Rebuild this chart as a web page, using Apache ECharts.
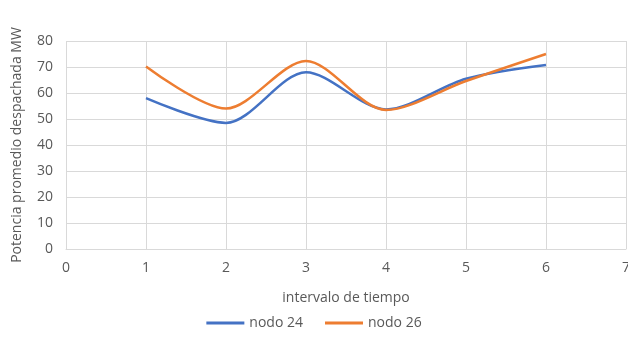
<!DOCTYPE html>
<html><head><meta charset="utf-8">
<script src="https://cdn.jsdelivr.net/npm/echarts@6/dist/echarts.min.js"></script>
<style>html,body{margin:0;padding:0;background:#fff}#c{width:628px;height:354px}</style>
</head><body><div id="c"></div>
<script>
const intervals = [1, 2, 3, 4, 5, 6];
const nodo24 = [58, 48.5, 68, 53.7, 65.5, 70.8];
const nodo26 = [70.2, 54, 72.3, 53.5, 64.6, 75];
const seriesNames = ['nodo 24', 'nodo 26'];
const colors = ['#4472C4', '#ED7D31'];
const font = 'Open Sans';
const chart = echarts.init(document.getElementById('c'));
chart.setOption({
  animation: false,
  color: colors,
  grid: {left: 66, right: 2, top: 41, bottom: 105, outerBoundsMode: 'none', containLabel: false},
  legend: {
    data: seriesNames, left: 'center', top: 311,
    itemWidth: 38, itemHeight: 3, itemGap: 22,
    icon: 'rect',
    textStyle: {color: '#595959', fontSize: 14, fontFamily: font}
  },
  xAxis: {
    type: 'value', min: 0, max: 7, interval: 1,
    name: 'intervalo de tiempo', nameLocation: 'middle', nameGap: 42,
    nameTextStyle: {color: '#595959', fontSize: 14, fontFamily: font},
    axisLine: {lineStyle: {color: '#D9D9D9'}},
    axisTick: {show: false},
    axisLabel: {color: '#595959', fontSize: 14, fontFamily: font, margin: 12},
    splitLine: {show: true, lineStyle: {color: '#D9D9D9'}}
  },
  yAxis: {
    type: 'value', min: 0, max: 80, interval: 10,
    name: 'Potencia promedio despachada MW', nameLocation: 'middle', nameGap: 42,
    nameTextStyle: {color: '#595959', fontSize: 14, fontFamily: font},
    axisLine: {show: false}, axisTick: {show: false},
    axisLabel: {color: '#595959', fontSize: 14, fontFamily: font, margin: 13},
    splitLine: {lineStyle: {color: '#D9D9D9'}}
  },
  series: [
    {name: seriesNames[0], type: 'line', smooth: 0.3, showSymbol: false,
     lineStyle: {width: 2.5, color: colors[0]},
     data: intervals.map((x, i) => [x, nodo24[i]])},
    {name: seriesNames[1], type: 'line', smooth: 0.3, showSymbol: false,
     lineStyle: {width: 2.5, color: colors[1]},
     data: intervals.map((x, i) => [x, nodo26[i]])}
  ]
});
</script></body></html>
